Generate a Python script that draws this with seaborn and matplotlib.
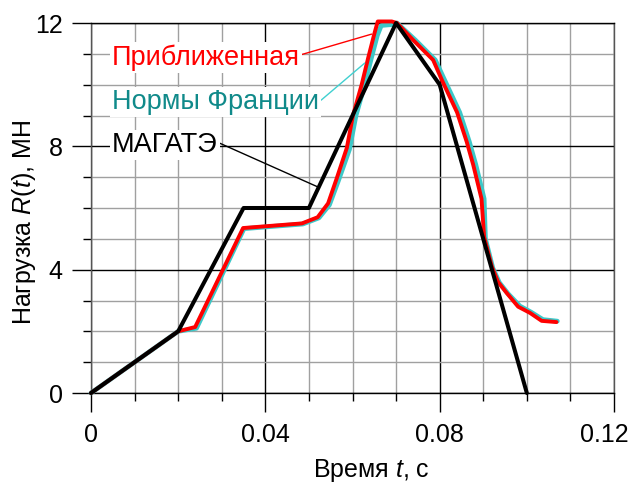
import numpy as np
import pandas as pd
import matplotlib
matplotlib.use('Agg')
import matplotlib.pyplot as plt
import matplotlib.transforms as mtransforms
import seaborn as sns

# МАГАТЭ (кусочно-линейная)
t_iaea = [0.0, 0.02, 0.035, 0.05, 0.07, 0.08, 0.10]
r_iaea = [0.0, 2.0, 6.0, 6.0, 12.0, 10.0, 0.0]

# Приближенная
t_appr = [0.0, 0.02, 0.0239, 0.0349, 0.0484, 0.052, 0.0544, 0.0564, 0.0587, 0.0601,
          0.0621, 0.0636, 0.0651, 0.0658, 0.069, 0.0702, 0.0739, 0.0785, 0.0807,
          0.084, 0.0862, 0.0877, 0.0896, 0.0902, 0.092, 0.0934, 0.0954, 0.098,
          0.1007, 0.1034, 0.1068]
r_appr = [0.0, 2.0, 2.14, 5.35, 5.5, 5.7, 6.15, 6.97, 7.95, 9.0,
          10.0, 10.87, 11.7, 12.05, 12.05, 12.0, 11.45, 10.8, 10.09,
          9.1, 8.15, 7.4, 6.3, 5.06, 4.09, 3.6, 3.24, 2.8,
          2.6, 2.34, 2.3]

# Нормы Франции
t_fr = [0.0, 0.02, 0.0242, 0.0351, 0.0486, 0.0523, 0.0547, 0.0568, 0.0593, 0.0608,
        0.0628, 0.0643, 0.0657, 0.0666, 0.069, 0.0702, 0.0744, 0.079, 0.0813,
        0.0846, 0.0868, 0.0883, 0.0902, 0.0905, 0.0922, 0.0937, 0.0957, 0.0984,
        0.101, 0.1037, 0.107]
r_fr = [0.0, 2.0, 2.1, 5.33, 5.48, 5.68, 6.1, 6.9, 7.9, 9.0,
        10.0, 10.85, 11.6, 11.92, 11.95, 12.0, 11.45, 10.8, 10.1,
        9.1, 8.15, 7.4, 6.3, 5.0, 4.05, 3.58, 3.22, 2.82,
        2.62, 2.38, 2.33]

x_ticks = [0, 0.04, 0.08, 0.12]
x_labels = ['0', '0.04', '0.08', '0.12']
y_ticks = [0, 4, 8, 12]
y_labels = ['0', '4', '8', '12']

sns.set_theme(style='white')
plt.rcParams['font.family'] = ['Liberation Sans', 'DejaVu Sans']
plt.rcParams['mathtext.fontset'] = 'custom'
plt.rcParams['mathtext.rm'] = 'Liberation Sans'
plt.rcParams['mathtext.it'] = 'Liberation Sans:italic'
plt.rcParams['text.color'] = 'black'
plt.rcParams['axes.labelcolor'] = 'black'
plt.rcParams['xtick.color'] = 'black'
plt.rcParams['ytick.color'] = 'black'

fig = plt.figure(figsize=(6.33, 4.86), dpi=100)
ax = fig.add_axes([91 / 633, 1 - 393 / 486, (614 - 91) / 633, (393 - 23) / 486])

df_fr = pd.DataFrame({'t': t_fr, 'R': r_fr})
df_appr = pd.DataFrame({'t': t_appr, 'R': r_appr})
df_iaea = pd.DataFrame({'t': t_iaea, 'R': r_iaea})

sns.lineplot(data=df_fr, x='t', y='R', ax=ax, color='#3cc8c8', lw=3.4, sort=False,
             zorder=3, clip_on=False)
sns.lineplot(data=df_appr, x='t', y='R', ax=ax, color='#ff0000', lw=2.8, sort=False,
             zorder=4, clip_on=False)
sns.lineplot(data=df_iaea, x='t', y='R', ax=ax, color='black', lw=2.9, sort=False,
             zorder=5, clip_on=False)

ax.set_xlim(0, 0.12)
ax.set_ylim(0, 12)
ax.set_xticks(x_ticks)
ax.set_xticklabels(x_labels)
ax.set_xticks(np.arange(0, 0.1201, 0.01), minor=True)
ax.set_yticks(y_ticks)
ax.set_yticklabels(y_labels)
ax.set_yticks(np.arange(0, 12.01, 1), minor=True)

ax.grid(which='minor', color='#a0a0a0', lw=1.0, zorder=0)
ax.grid(which='major', color='black', lw=1.0, zorder=1)
ax.set_axisbelow(True)

ax.tick_params(which='major', direction='out', length=13.5, width=1, color='black',
               labelsize=18, labelcolor='black', bottom=True, left=True)
ax.tick_params(axis='x', which='major', pad=8)
ax.tick_params(axis='y', which='major', pad=7)
ax.tick_params(which='minor', direction='out', length=6, width=1, color='black',
               bottom=True, left=True)
for s in ax.spines.values():
    s.set_color('#555555')
    s.set_linewidth(1.0)
ax.spines['bottom'].set_color('black')
ax.spines['top'].set_color('black')

# последняя подпись чуть левее, чтобы влезла в кадр
lab = ax.get_xticklabels()[-1]
lab.set_transform(lab.get_transform() +
                  mtransforms.ScaledTranslation(-10 / 100, 0, fig.dpi_scale_trans))

ax.set_xlabel(r'Время $\it{t}$, с', fontsize=18, color='black')
ax.xaxis.set_label_coords(0.537, -0.172)
ax.set_ylabel(r'Нагрузка $\it{R}$($\it{t}$), МН', fontsize=18, color='black')
ax.yaxis.set_label_coords(-0.101, 0.462)

box = dict(facecolor='white', edgecolor='none', pad=1.5)
ax.annotate('Приближенная', xy=(0.0644, 11.64), xytext=(0.0048, 10.64),
            color='#ff0000', fontsize=19.5, va='baseline', ha='left', bbox=box, zorder=6,
            arrowprops=dict(arrowstyle='-', color='#ff0000', lw=1, shrinkA=0, shrinkB=0,
                            relpos=(1.0, 0.6)))
ax.annotate('Нормы Франции', xy=(0.0628, 10.7), xytext=(0.0048, 9.21),
            color='#108a8a', fontsize=19.5, va='baseline', ha='left', bbox=box, zorder=6,
            arrowprops=dict(arrowstyle='-', color='#40d0d0', lw=1, shrinkA=0, shrinkB=0,
                            relpos=(1.0, 0.5)))
ax.annotate('МАГАТЭ', xy=(0.0521, 6.68), xytext=(0.0048, 7.82),
            color='black', fontsize=19.5, va='baseline', ha='left', bbox=box, zorder=6,
            arrowprops=dict(arrowstyle='-', color='black', lw=1, shrinkA=0, shrinkB=0,
                            relpos=(1.0, 0.6)))

fig.savefig('out.png', dpi=100)
